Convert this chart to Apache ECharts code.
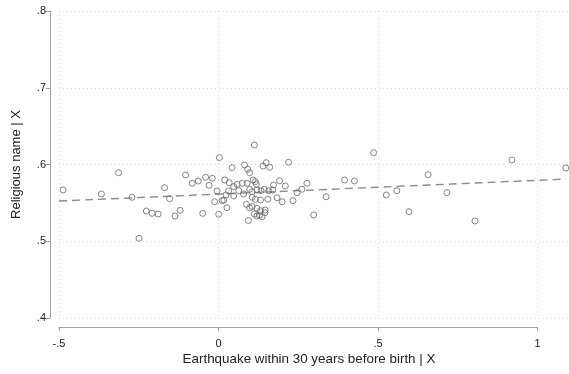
<!DOCTYPE html>
<html><head><meta charset="utf-8">
<script src="https://cdn.jsdelivr.net/npm/echarts@6/dist/echarts.min.js"></script>
<style>html,body{margin:0;padding:0;background:#fff}#c{width:569px;height:374px}</style>
</head><body><div id="c"></div>
<script>
const xTitle = 'Earthquake within 30 years before birth | X';
const yTitle = 'Religious name | X';
const xTicks = [-0.5, 0, 0.5, 1];
const yTicks = [0.4, 0.5, 0.6, 0.7, 0.8];
const pointX = [-0.487,-0.367,-0.313,-0.271,-0.249,-0.226,-0.208,-0.189,-0.169,-0.153,-0.136,-0.120,-0.103,-0.082,-0.063,-0.040,-0.019,-0.029,-0.049,-0.012,-0.004,0.003,0.001,0.043,0.020,0.034,0.048,0.032,0.024,0.017,0.027,0.113,0.082,0.140,0.150,0.161,0.092,0.098,0.059,0.075,0.090,0.109,0.116,0.119,0.173,0.192,0.210,0.064,0.079,0.098,0.106,0.121,0.134,0.144,0.158,0.171,0.048,0.106,0.116,0.132,0.155,0.184,0.200,0.088,0.106,0.121,0.132,0.147,0.113,0.121,0.129,0.137,0.146,0.094,0.487,0.220,0.278,0.262,0.247,0.234,0.338,0.299,0.396,0.427,0.527,0.560,0.598,0.658,0.717,0.805,0.921,1.090,0.098,0.012];
const pointY = [0.5668,0.5616,0.5893,0.5573,0.5038,0.5394,0.5364,0.5355,0.5698,0.5554,0.5329,0.5403,0.5863,0.5755,0.5785,0.5833,0.5820,0.5729,0.5364,0.5515,0.5655,0.6089,0.5351,0.5958,0.5798,0.5763,0.5711,0.5655,0.5603,0.5538,0.5437,0.6254,0.5994,0.5980,0.6024,0.5963,0.5937,0.5893,0.5742,0.5755,0.5755,0.5798,0.5776,0.5742,0.5733,0.5789,0.5720,0.5659,0.5616,0.5677,0.5646,0.5668,0.5659,0.5677,0.5659,0.5668,0.5590,0.5573,0.5547,0.5538,0.5547,0.5567,0.5515,0.5481,0.5451,0.5429,0.5398,0.5407,0.5355,0.5329,0.5338,0.5320,0.5372,0.5270,0.6154,0.6029,0.5755,0.5677,0.5633,0.5529,0.5580,0.5342,0.5798,0.5785,0.5603,0.5659,0.5385,0.5867,0.5633,0.5264,0.6059,0.5954,0.5437,0.5529];
const fitX = [-0.5, 1.09];
const fitY = [0.5524, 0.5810];

const fmt = v => { const s = (Math.round(v*10)/10).toString(); return s.replace(/^0\./,'.').replace(/^-0\./,'-.'); };
const FONT = 'Liberation Sans, Arial, sans-serif';
const chart = echarts.init(document.getElementById('c'), null, {renderer:'canvas'});
chart.setOption({
  animation:false,
  backgroundColor:'#fff',
  grid:[
    {left:59, top:11, width:510.4, height:307},
    {left:59, top:11, width:478.5, height:316}
  ],
  xAxis:[
    {gridIndex:0, type:'value', min:-0.5, max:1.1, interval:0.5,
     axisLine:{show:false}, axisTick:{show:false}, axisLabel:{show:false},
     splitLine:{show:true, lineStyle:{color:'#dcdcdc', type:[1,3], width:1}}},
    {gridIndex:1, type:'value', min:xTicks[0], max:xTicks[xTicks.length-1], interval:0.5, position:'bottom',
     axisLine:{show:true, onZero:false, lineStyle:{color:'#a0a0a0', width:1}},
     axisTick:{show:true, length:4, lineStyle:{color:'#a0a0a0'}},
     axisLabel:{color:'#222', fontFamily:FONT, fontSize:11, margin:11, formatter:fmt},
     splitLine:{show:false}}
  ],
  yAxis:[
    {gridIndex:0, type:'value', min:yTicks[0], max:yTicks[yTicks.length-1], interval:0.1, offset:9,
     axisLine:{show:true, onZero:false, lineStyle:{color:'#a0a0a0', width:1}},
     axisTick:{show:true, length:4, lineStyle:{color:'#a0a0a0'}},
     axisLabel:{color:'#222', fontFamily:FONT, fontSize:11, margin:4, formatter:fmt},
     splitLine:{show:true, lineStyle:{color:'#dcdcdc', type:[1,3], width:1}},
     name:yTitle, nameLocation:'middle', nameGap:27, nameRotate:90,
     nameTextStyle:{color:'#222', fontFamily:FONT, fontSize:13}},
    {gridIndex:1, type:'value', min:0, max:1,
     axisLine:{show:false}, axisTick:{show:false}, axisLabel:{show:false}, splitLine:{show:false}}
  ],
  graphic:[{type:'text', x:309, y:353, style:{text:xTitle, fill:'#222', font:'13.4px '+FONT, textAlign:'center', textVerticalAlign:'top'}}],
  series:[
    {type:'line', xAxisIndex:0, yAxisIndex:0, data:fitX.map((x,i)=>[x,fitY[i]]), symbol:'none',
     lineStyle:{color:'#8c8c8c', width:1.4, type:[8,5]}, z:1},
    {type:'scatter', xAxisIndex:0, yAxisIndex:0, data:pointX.map((x,i)=>[x,pointY[i]]),
     symbol:'circle', symbolSize:6, itemStyle:{color:'rgba(255,255,255,0)', borderColor:'#666', borderWidth:1}, z:2}
  ]
});
</script></body></html>
